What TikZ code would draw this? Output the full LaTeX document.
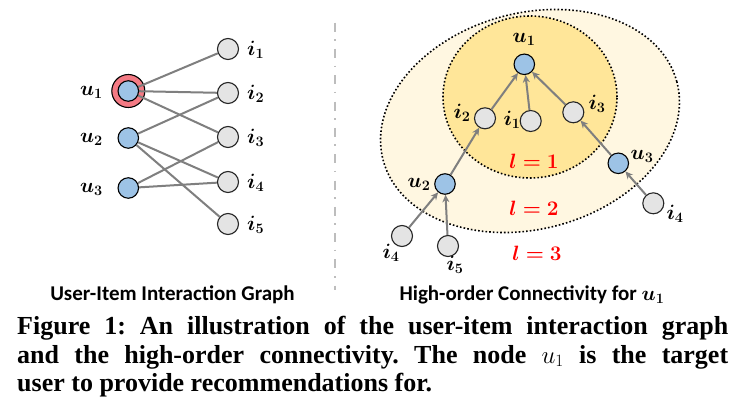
\documentclass[tikz,border=0pt]{standalone}
\usepackage{fontspec}
\setmainfont{Liberation Serif}
\newfontfamily\subfont{Carlito}
\usepackage{bm}
\usetikzlibrary{arrows.meta}
\definecolor{ublue}{HTML}{9DC3E6}
\definecolor{igray}{HTML}{E4E4E4}
\definecolor{ringred}{HTML}{F47A84}
\definecolor{edgegray}{HTML}{7F7F7F}
\definecolor{lone}{HTML}{FFE699}
\definecolor{ltwo}{HTML}{FFF7E1}
\definecolor{sepgray}{HTML}{BDBDBD}
\newcommand{\layertxt}[1]{$\thickmuskip=4.5mu l=#1$}
\tikzset{
  user/.style={circle, draw=black, line width=1.1pt, fill=ublue, minimum size=20.5pt, inner sep=0pt},
  target/.style={circle, draw=black, line width=1.1pt, fill=ringred, minimum size=33pt, inner sep=0pt},
  item/.style={circle, draw=black!85, line width=1.1pt, fill=igray, minimum size=21pt, inner sep=0pt},
  lab/.style={font=\fontsize{20.5}{20}\selectfont\boldmath, inner sep=0pt},
  layer/.style={font=\fontsize{20.5}{20}\selectfont\boldmath, text=red, inner sep=0pt},
  edge/.style={draw=edgegray, line width=2pt},
  arr/.style={edge, -{Stealth[length=7.5pt,width=7pt]}},
  hop/.style={draw=black, line width=1.6pt, dash pattern=on 1.6pt off 2.1pt},
  sepline/.style={draw=sepgray, line width=2.6pt, dash pattern=on 9pt off 7.6pt on 1.6pt off 8.1pt},
  subtitle/.style={font=\subfont\bfseries\fontsize{21}{22}\selectfont\boldmath, inner sep=0pt},
  caption/.style={font=\bfseries\fontsize{26}{28.7}\selectfont\frenchspacing, align=left, inner sep=0pt, anchor=north west}
}
\begin{document}
\begin{tikzpicture}[x=1pt, y=-1pt]
\useasboundingbox[fill=white] (0,0) rectangle (740,420);

% ---------- left: user-item interaction graph ----------
\node[target] (u1r) at (128.3,91) {};
\node[item] (i1) at (228,49) {};
\node[item] (i2) at (228,93) {};
\node[item] (i3) at (228,137) {};
\node[item] (i4) at (228,182) {};
\node[item] (i5) at (228,224) {};
\node[user] (u2) at (128.3,138) {};
\node[user] (u3) at (128.3,188) {};

\draw[edge] (u1r.center) -- (i1);
\draw[edge] (u1r.center) -- (i2);
\draw[edge] (u1r.center) -- (i3);
\draw[edge] (u2) -- (i2);
\draw[edge] (u2) -- (i4);
\draw[edge] (u2) -- (i5);
\draw[edge] (u3) -- (i3);
\draw[edge] (u3) -- (i4);
\node[user] (u1) at (u1r.center) {};

\node[lab, anchor=east] (lu1) at (103,92) {$u_1$};
\node[lab, anchor=east] (lu2) at (103,139) {$u_2$};
\node[lab, anchor=east] (lu3) at (103,189) {$u_3$};
\node[lab, anchor=west] (li1) at (247,50) {$i_1$};
\node[lab, anchor=west] (li2) at (247,94) {$i_2$};
\node[lab, anchor=west] (li3) at (247,138) {$i_3$};
\node[lab, anchor=west] (li4) at (247,183) {$i_4$};
\node[lab, anchor=west] (li5) at (247,225) {$i_5$};

% ---------- separator ----------
\draw[sepline] (335,22.7) -- (335,290);

% ---------- right: high-order connectivity ----------
\draw[hop, fill=ltwo] (530,121) ellipse [x radius=152pt, y radius=108pt, rotate=15];
\draw[hop, fill=lone] (530,97) ellipse [x radius=87pt, y radius=81pt];

\node[user] (r-u1) at (524.3,64.3) {};
\node[item] (r-i2) at (485,118.3) {};
\node[item] (r-i1) at (530.7,121) {};
\node[item] (r-i3) at (573.3,112.3) {};
\node[user] (r-u2) at (445,184) {};
\node[user] (r-u3) at (618.3,163.3) {};
\node[item] (r-i4a) at (402,236) {};
\node[item] (r-i5) at (448,246) {};
\node[item] (r-i4b) at (653.3,203.3) {};

\draw[arr] (r-i2) -- (r-u1);
\draw[arr] (r-i1) -- (r-u1);
\draw[arr] (r-i3) -- (r-u1);
\draw[arr] (r-u2) -- (r-i2);
\draw[arr] (r-u3) -- (r-i3);
\draw[arr] (r-i4a) -- (r-u2);
\draw[arr] (r-i5) -- (r-u2);
\draw[arr] (r-i4b) -- (r-u3);

\node[lab] (rl-u1) at (524,39) {$u_1$};
\node[lab] (rl-i2) at (462,113) {$i_2$};
\node[lab] (rl-i1) at (512,120) {$i_1$};
\node[lab] (rl-i3) at (597,104) {$i_3$};
\node[lab] (rl-u3) at (642,156) {$u_3$};
\node[lab] (rl-u2) at (419,184) {$u_2$};
\node[lab] (rl-i4b) at (675,214) {$i_4$};
\node[lab] (rl-i4a) at (391,253) {$i_4$};
\node[lab] (rl-i5) at (455,265) {$i_5$};

\node[layer] (l1) at (534,161) {\layertxt{1}};
\node[layer] (l2) at (534,208) {\layertxt{2}};
\node[layer] (l3) at (537,253) {\layertxt{3}};

% ---------- titles and caption ----------
\node[subtitle] (t1) at (172.5,295) {User-Item Interaction Graph};
\node[subtitle] (t2) at (532,295) {High-order Connectivity for $u_1$};

\node[caption] (cap) at (17,316) {%
\makebox[711pt][s]{Figure 1: An illustration of the user-item interaction graph}\\
\makebox[711pt][s]{and the high-order connectivity. The node $u_1$ is the target}\\
user to provide recommendations for.};
\end{tikzpicture}
\end{document}
